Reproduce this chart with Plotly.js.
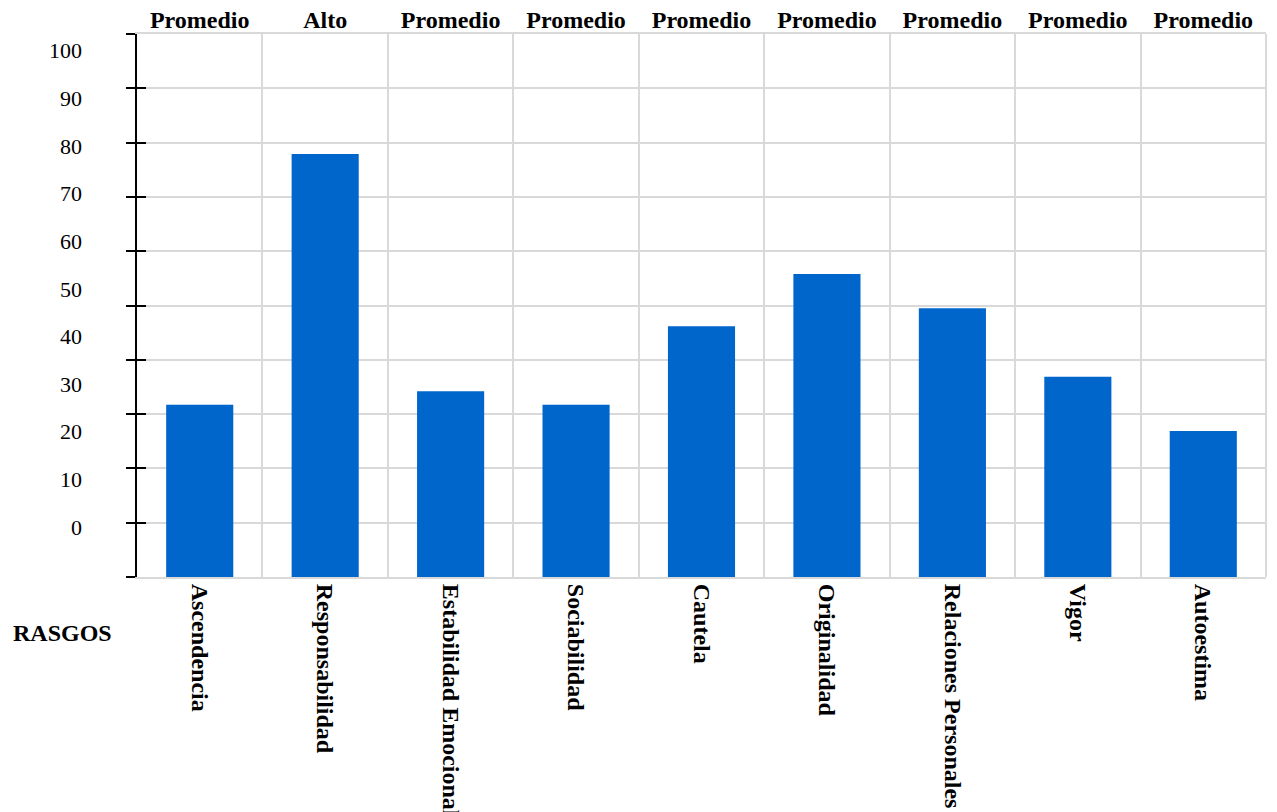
<!DOCTYPE html>
<html>
<head>
<meta charset="utf-8">
<script src="https://cdn.plot.ly/plotly-3.0.1.min.js"></script>
<style>html,body{margin:0;padding:0;background:#fff;}#chart{width:1277px;height:812px;}</style>
</head>
<body>
<div id="chart"></div>
<script>
const categories = ["Ascendencia","Responsabilidad","Estabilidad Emocional","Sociabilidad","Cautela","Originalidad","Relaciones Personales","Vigor","Autoestima"];
const values = [31.7, 77.9, 34.2, 31.7, 46.2, 55.8, 49.5, 36.9, 26.9];
const levels = ["Promedio","Alto","Promedio","Promedio","Promedio","Promedio","Promedio","Promedio","Promedio"];
const yTickLabels = [0,10,20,30,40,50,60,70,80,90,100];
const xTitle = "RASGOS";

const serif = "Liberation Serif, Times New Roman, serif";
const idx = categories.map((c,i)=>i);
const grid = "#d9d9d9";

const traces = [
  {type:"bar", x:categories, y:values, xaxis:"x", yaxis:"y",
   marker:{color:"#0066CC", line:{width:0}}, hoverinfo:"skip"},
  {type:"scatter", mode:"markers", x:idx, y:values, xaxis:"x2", yaxis:"y2",
   marker:{opacity:0}, hoverinfo:"skip", showlegend:false},
  {type:"scatter", mode:"markers", x:categories, y:values, xaxis:"x", yaxis:"y3",
   marker:{opacity:0}, hoverinfo:"skip", showlegend:false}
];

const layout = {
  width:1277, height:812,
  margin:{l:137, r:11, t:34, b:235},
  paper_bgcolor:"#fff", plot_bgcolor:"#fff",
  showlegend:false,
  bargap:0.465,
  font:{family:serif, color:"#000", size:20},
  xaxis:{type:"category", tickson:"boundaries", showgrid:true, gridcolor:grid, gridwidth:2,
         ticks:"", tickangle:90, showline:true, linecolor:grid, linewidth:2, mirror:true, zeroline:false,
         tickfont:{family:serif, size:24, color:"#000", weight:"bold"}},
  xaxis2:{overlaying:"x", side:"top", anchor:"y", range:[-0.5, categories.length-0.5],
          tickmode:"array", tickvals:idx, ticktext:levels, showgrid:false, ticks:"",
          showline:false, zeroline:false,
          tickfont:{family:serif, size:24, color:"#000", weight:"bold"}},
  yaxis:{range:[0,100], tickmode:"array", tickvals:yTickLabels, showgrid:true, gridcolor:grid, gridwidth:2,
         showline:true, linecolor:"#000", linewidth:2, ticks:"outside", ticklen:9, tickwidth:2, tickcolor:"#000",
         showticklabels:false, zeroline:false},
  yaxis3:{overlaying:"y", side:"left", anchor:"x", range:[0,100], tickmode:"array", tickvals:yTickLabels,
          showgrid:false, showline:false, ticks:"inside", ticklen:9, tickwidth:2, tickcolor:"#000",
          showticklabels:false, zeroline:false},
  yaxis2:{overlaying:"y", side:"left", anchor:"x", range:[-10.51, 103.5], tickmode:"array", tickvals:yTickLabels,
          showgrid:false, showline:false, ticks:"", zeroline:false, ticklabelstandoff:54,
          tickfont:{family:serif, size:22, color:"#000"}},
  shapes:[
    {type:"line", xref:"paper", yref:"paper", x0:1, x1:1, y0:0, y1:1, line:{color:grid, width:2}, layer:"below"}
  ],
  annotations:[
    {text:"<b>"+xTitle+"</b>", xref:"paper", yref:"paper", x:-0.112, y:-0.103, xanchor:"left", yanchor:"middle",
     showarrow:false, font:{family:serif, size:24, color:"#000"}}
  ]
};

Plotly.newPlot("chart", traces, layout, {displayModeBar:false, staticPlot:true});
</script>
</body>
</html>
